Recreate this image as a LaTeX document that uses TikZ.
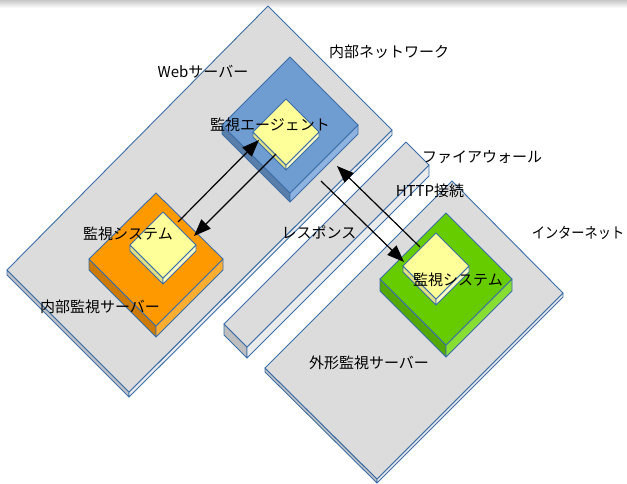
\documentclass[tikz,border=0pt]{standalone}
\usepackage{fontspec}
\usetikzlibrary{arrows.meta}
\newfontfamily\jpfont{Noto Sans CJK JP}
\definecolor{edgeblue}{HTML}{3B6EA8}
\definecolor{grtop}{HTML}{DCDCDC}
\definecolor{grleft}{HTML}{C4C4C4}
\definecolor{grright}{HTML}{EBEBEB}
\definecolor{fwend}{HTML}{BEBEBE}
\definecolor{bltop}{HTML}{6F9DD1}
\definecolor{blleft}{HTML}{587EA9}
\definecolor{blright}{HTML}{8FB3E0}
\definecolor{ortop}{HTML}{FF9900}
\definecolor{orleft}{HTML}{CC7A00}
\definecolor{orright}{HTML}{FFAD33}
\definecolor{gntop}{HTML}{66CC00}
\definecolor{gnleft}{HTML}{55A800}
\definecolor{gnright}{HTML}{88DD33}
\definecolor{yltop}{HTML}{FFFF99}
\definecolor{ylleft}{HTML}{E2E285}
\definecolor{ylright}{HTML}{FFFFC4}
\newcommand\slab[9]{%
  \coordinate (#1-T) at (#2);
  \coordinate (#1-R) at (#3);
  \coordinate (#1-B) at (#4);
  \coordinate (#1-L) at (#5);
  \filldraw[edge, fill=#8] (#1-L) -- (#1-B) -- ([yshift=-#6pt]#1-B) -- ([yshift=-#6pt]#1-L) -- cycle;
  \filldraw[edge, fill=#9] (#1-B) -- (#1-R) -- ([yshift=-#6pt]#1-R) -- ([yshift=-#6pt]#1-B) -- cycle;
  \filldraw[edge, fill=#7] (#1-T) -- (#1-R) -- (#1-B) -- (#1-L) -- cycle;
}
\tikzset{
  edge/.style={draw=edgeblue, line width=0.9pt, line join=round},
  lbl/.style={font=\jpfont\fontsize{15}{18}\selectfont, inner sep=0pt, text=black},
  arr/.style={draw=black, line width=1.2pt, -{Triangle[length=17pt,width=13pt]}},
}
\begin{document}
\begin{tikzpicture}[x=1pt,y=-1pt]
\useasboundingbox (0,0) rectangle (627,484);
\shade[top color=black!22, bottom color=white] (0,0) rectangle (627,8);
% platforms
\slab{net}{268,6}{392,130}{129,392}{7,270}{5}{grtop}{grleft}{grright}
\slab{fw}{406,142}{429,165}{247,347}{224,324}{11}{grtop}{fwend}{grright}
\slab{inet}{452,181}{563,293}{377,479}{265,368}{4}{grtop}{grleft}{grright}
\slab{web}{290,57}{358,125}{290,193}{222,125}{9}{bltop}{blleft}{blright}
\slab{ims}{156,193}{223,259}{156,326}{89,259}{11}{ortop}{orleft}{orright}
\slab{ext}{446,213}{512,279}{446,345}{380,279}{12}{gntop}{gnleft}{gnright}
\slab{agent}{286,99}{319,132}{286,165}{253,132}{5}{yltop}{ylleft}{ylright}
\slab{msl}{163,212}{196,245}{163,278}{130,245}{6}{yltop}{ylleft}{ylright}
\slab{msr}{436,233}{469,266}{436,299}{403,266}{6}{yltop}{ylleft}{ylright}
% connector endpoints
\coordinate (a1s) at (178,222); \coordinate (a1e) at (259,140);
\coordinate (a2s) at (276,154); \coordinate (a2e) at (194,236);
\coordinate (a3s) at (420,247); \coordinate (a3e) at (337,166);
\coordinate (a4s) at (321,181); \coordinate (a4e) at (404,262);
\draw[arr] (a1s) -- (a1e);
\draw[arr] (a2s) -- (a2e);
\draw[arr] (a3s) -- (a3e);
\draw[arr] (a4s) -- (a4e);
% labels
\node[lbl] (l1) at (203,72) {Webサーバー};
\node[lbl] (l2) at (389,52) {内部ネットワーク};
\node[lbl] (l3) at (270,125) {監視エージェント};
\node[lbl] (l4) at (482,157) {ファイアウォール};
\node[lbl] (l5) at (430,191) {HTTP接続};
\node[lbl, xscale=0.88] (l6) at (578,233) {インターネット};
\node[lbl] (l7) at (319,232) {レスポンス};
\node[lbl] (l8) at (128,234) {監視システム};
\node[lbl] (l9) at (100,307) {内部監視サーバー};
\node[lbl] (l10) at (458,280) {監視システム};
\node[lbl] (l11) at (369,363) {外形監視サーバー};
\end{tikzpicture}
\end{document}
